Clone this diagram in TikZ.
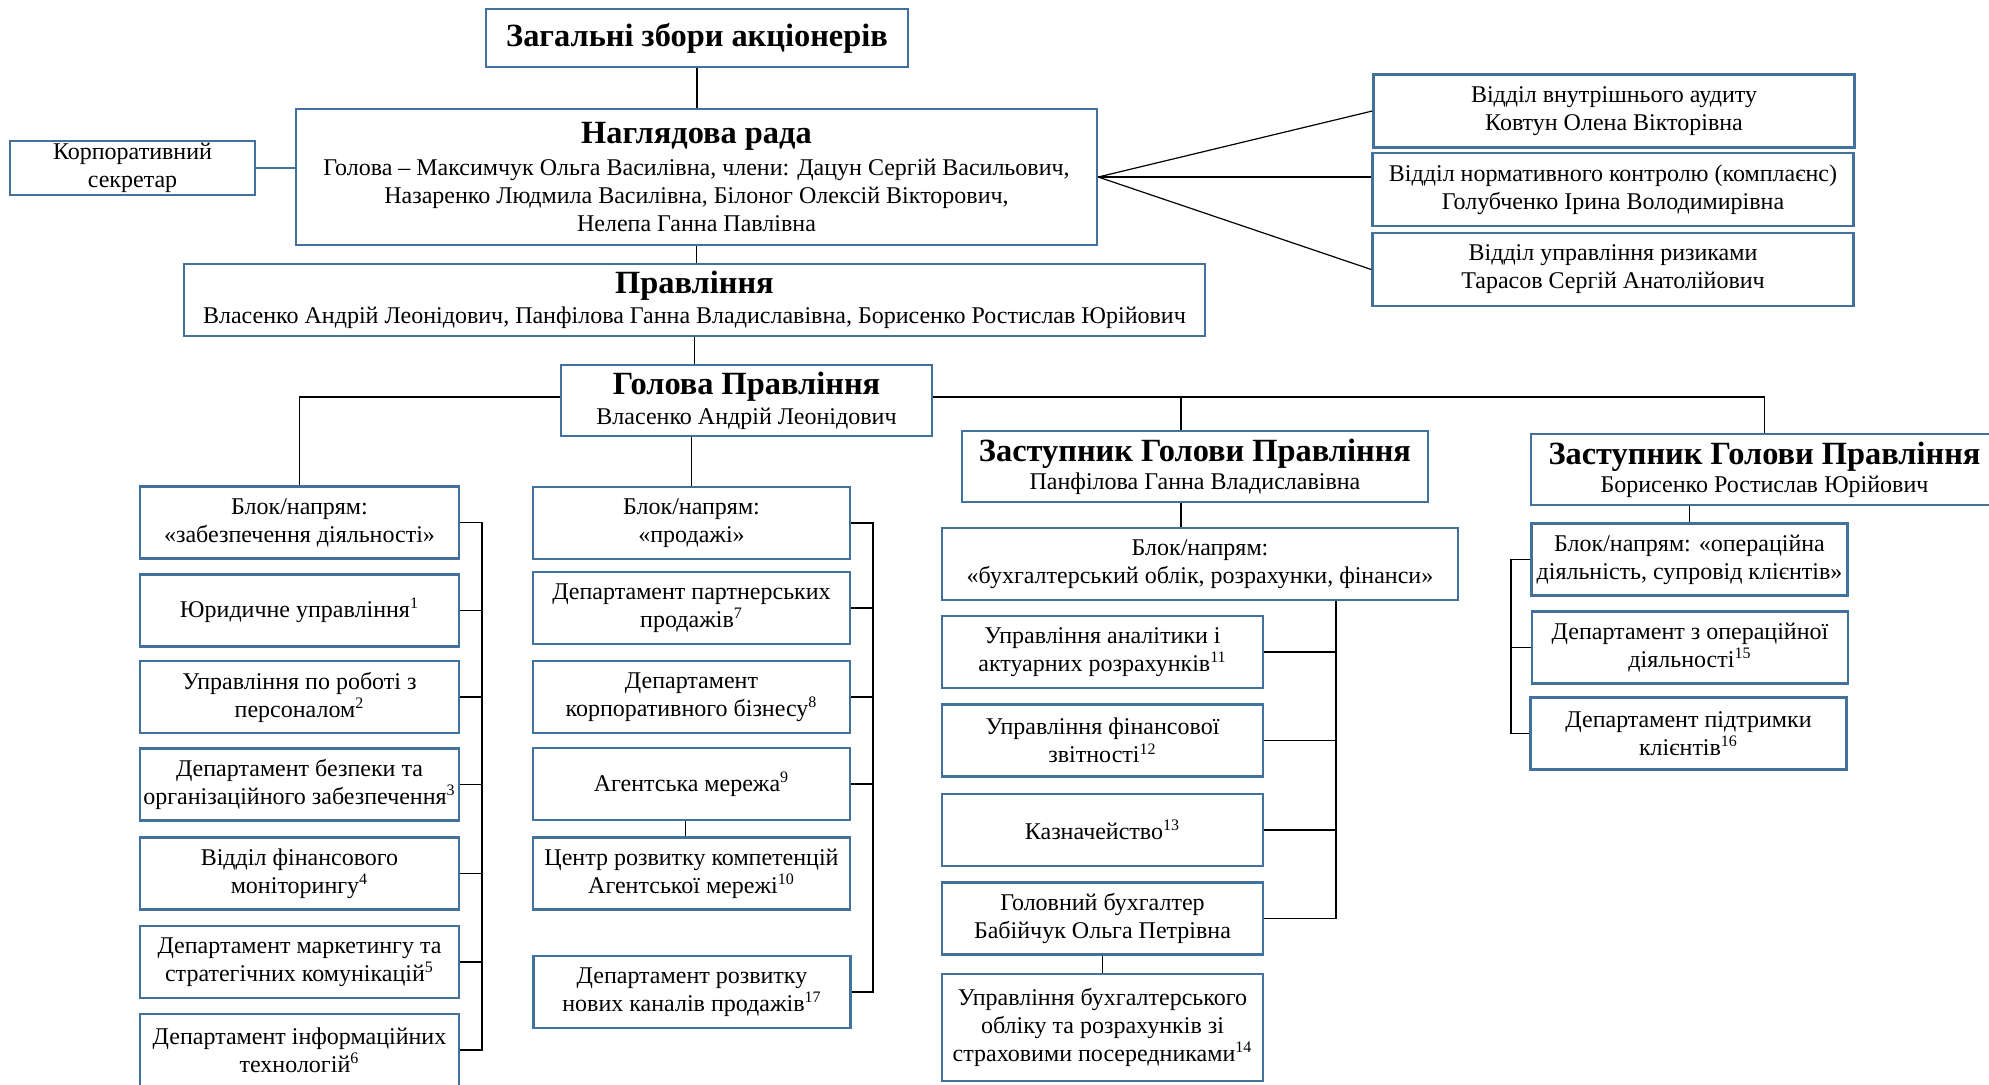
\documentclass[tikz,border=0pt]{standalone}
\usepackage{fontspec}
\setmainfont{Liberation Serif}
\usepackage{tikz}
\definecolor{boxblue}{RGB}{65,113,156}
\newcommand{\headtext}[1]{{\fontsize{16.2}{18}\selectfont\bfseries #1}}

\begin{document}
\begin{tikzpicture}[x=0.5pt, y=-0.5pt,
  box/.style={draw=boxblue, line width=1.2pt, fill=white, align=center, inner sep=0pt,
    font=\fontsize{12}{14}\selectfont},
  leftbox/.style={box, minimum width=159.5pt, minimum height=36pt},
  midbox/.style={box, minimum width=158.5pt, minimum height=36pt},
  buhbox/.style={box, minimum width=160.5pt, minimum height=36pt},
  opbox/.style={box, minimum width=158pt, minimum height=36pt},
  rightbox/.style={box, minimum width=240.5pt, minimum height=36.5pt},
  link/.style={black, line width=0.6pt}]
\useasboundingbox (0,0) rectangle (1989,1084);
\clip (0,0) rectangle (1989,1084);

\node[box, minimum width=211pt, minimum height=29pt] (zbory) at (697,38) {\headtext{Загальні збори акціонерів}};
\node[box, minimum width=400.5pt, minimum height=68pt] (nrada) at (696.5,177) {\headtext{Наглядова рада}\\[2pt]
  Голова – Максимчук Ольга Василівна, члени: Дацун Сергій Васильович,\\
  Назаренко Людмила Василівна, Білоног Олексій Вікторович,\\
  Нелепа Ганна Павлівна};
\node[box, minimum width=122.5pt, minimum height=27pt] (sekretar) at (132.5,168) {Корпоративний\\ секретар};

\node[rightbox] (audyt) at (1614,111) {Відділ внутрішнього аудиту\\ Ковтун Олена Вікторівна};
\node[rightbox] (komplaens) at (1613,189.5) {Відділ нормативного контролю (комплаєнс)\\ Голубченко Ірина Володимирівна};
\node[rightbox] (ryzyky) at (1613,269.5) {Відділ управління ризиками\\ Тарасов Сергій Анатолійович};

\node[box, minimum width=510.5pt, minimum height=36pt] (pravlinnia) at (694.5,300) {\headtext{Правління}\\[1pt]
  Власенко Андрій Леонідович, Панфілова Ганна Владиславівна, Борисенко Ростислав Юрійович};
\node[box, minimum width=185.5pt, minimum height=35.5pt] (holova) at (746.5,400.5) {\headtext{Голова Правління}\\[1pt] Власенко Андрій Леонідович};
\node[box, minimum width=233pt, minimum height=35.5pt] (zast1) at (1195,466.5) {\headtext{Заступник Голови Правління}\\ Панфілова Ганна Владиславівна};
\node[box, minimum width=233.5pt, minimum height=35.5pt] (zast2) at (1764.5,469.5) {\headtext{Заступник Голови Правління}\\ Борисенко Ростислав Юрійович};

\node[leftbox] (zab) at (299.5,522.5) {Блок/напрям:\\ «забезпечення діяльності»};
\node[leftbox] (yur) at (299.5,610.5) {Юридичне управління\textsuperscript{1}};
\node[leftbox] (pers) at (299.5,697) {Управління по роботі з\\ персоналом\textsuperscript{2}};
\node[leftbox] (bezp) at (299.5,784.5) {Департамент безпеки та\\ організаційного забезпечення\textsuperscript{3}};
\node[leftbox] (finmon) at (299.5,873.5) {Відділ фінансового\\ моніторингу\textsuperscript{4}};
\node[leftbox] (mark) at (299.5,962) {Департамент маркетингу та\\ стратегічних комунікацій\textsuperscript{5}};
\node[leftbox] (it) at (299.5,1050) {Департамент інформаційних\\ технологій\textsuperscript{6}};

\node[midbox] (prod) at (691.5,523) {Блок/напрям:\\ «продажі»};
\node[midbox] (partn) at (691.5,608) {Департамент партнерських\\ продажів\textsuperscript{7}};
\node[midbox] (korp) at (691.5,697) {Департамент\\ корпоративного бізнесу\textsuperscript{8}};
\node[midbox] (agent) at (691.5,784) {Агентська мережа\textsuperscript{9}};
\node[midbox] (centr) at (691.5,873.5) {Центр розвитку компетенцій\\ Агентської мережі\textsuperscript{10}};
\node[midbox] (kanaly) at (692,992) {Департамент розвитку\\ нових каналів продажів\textsuperscript{17}};

\node[box, minimum width=258pt, minimum height=36pt] (blokbuh) at (1200,564) {Блок/напрям:\\ «бухгалтерський облік, розрахунки, фінанси»};
\node[buhbox] (analit) at (1102.5,652) {Управління аналітики і\\ актуарних розрахунків\textsuperscript{11}};
\node[buhbox] (zvit) at (1102.5,740.5) {Управління фінансової\\ звітності\textsuperscript{12}};
\node[buhbox] (kazn) at (1102.5,830) {Казначейство\textsuperscript{13}};
\node[buhbox] (hbuh) at (1102.5,918.5) {Головний бухгалтер\\ Бабійчук Ольга Петрівна};
\node[buhbox, minimum height=53.5pt] (buhobl) at (1102.5,1027.5) {Управління бухгалтерського\\ обліку та розрахунків зі\\ страховими посередниками\textsuperscript{14}};

\node[opbox] (blokop) at (1689.5,559.5) {Блок/напрям: «операційна\\ діяльність, супровід клієнтів»};
\node[opbox] (opdial) at (1690,647.5) {Департамент з операційної\\ діяльності\textsuperscript{15}};
\node[opbox] (pidtr) at (1688.5,733.5) {Департамент підтримки\\ клієнтів\textsuperscript{16}};

\coordinate (lbus) at (482,0);
\coordinate (mbus) at (873,0);
\coordinate (bbus) at (1336,0);
\coordinate (obus) at (1511,0);
\coordinate (topbus) at (0,397);

\draw[link] (zbory.south) -- (zbory.south |- nrada.north);
\draw[link] (nrada.south) -- (nrada.south |- pravlinnia.north);
\draw[link] (pravlinnia.south) -- (pravlinnia.south |- holova.north);
\draw[boxblue, line width=1.2pt] (sekretar.east) -- (sekretar.east -| nrada.west);
\draw[link] (nrada.east) -- (audyt.west);
\draw[link] (nrada.east) -- (nrada.east -| komplaens.west);
\draw[link] (nrada.east) -- (ryzyky.west);

\draw[link] (holova.west |- topbus) -| (zab.north);
\draw[link] (holova.east |- topbus) -| (zast2.north);
\draw[link] ([xshift=-7pt]zast1.north) -- ([xshift=-7pt]zast1.north |- topbus);
\draw[link] (prod.north) -- (prod.north |- holova.south);
\draw[link] ([xshift=-7pt]zast1.south) -- ([xshift=-7pt]zast1.south |- blokbuh.north);
\draw[link] (blokop.north) -- (blokop.north |- zast2.south);

\draw[link] (zab.east) -- (zab.east -| lbus) -- (it.east -| lbus) -- (it.east);
\draw[link] (yur.east) -- (yur.east -| lbus);
\draw[link] (pers.east) -- (pers.east -| lbus);
\draw[link] (bezp.east) -- (bezp.east -| lbus);
\draw[link] (finmon.east) -- (finmon.east -| lbus);
\draw[link] (mark.east) -- (mark.east -| lbus);

\draw[link] (prod.east) -- (prod.east -| mbus) -- (kanaly.east -| mbus) -- (kanaly.east);
\draw[link] (partn.east) -- (partn.east -| mbus);
\draw[link] (korp.east) -- (korp.east -| mbus);
\draw[link] (agent.east) -- (agent.east -| mbus);
\draw[link] ([xshift=-3pt]agent.south) -- ([xshift=-3pt]agent.south |- centr.north);

\draw[link] (blokbuh.south -| bbus) -- (hbuh.east -| bbus) -- (hbuh.east);
\draw[link] (analit.east) -- (analit.east -| bbus);
\draw[link] (zvit.east) -- (zvit.east -| bbus);
\draw[link] (kazn.east) -- (kazn.east -| bbus);
\draw[link] (hbuh.south) -- (hbuh.south |- buhobl.north);

\draw[link] (blokop.west) -- (blokop.west -| obus) -- (pidtr.west -| obus) -- (pidtr.west);
\draw[link] (opdial.west) -- (opdial.west -| obus);
\end{tikzpicture}
\end{document}
